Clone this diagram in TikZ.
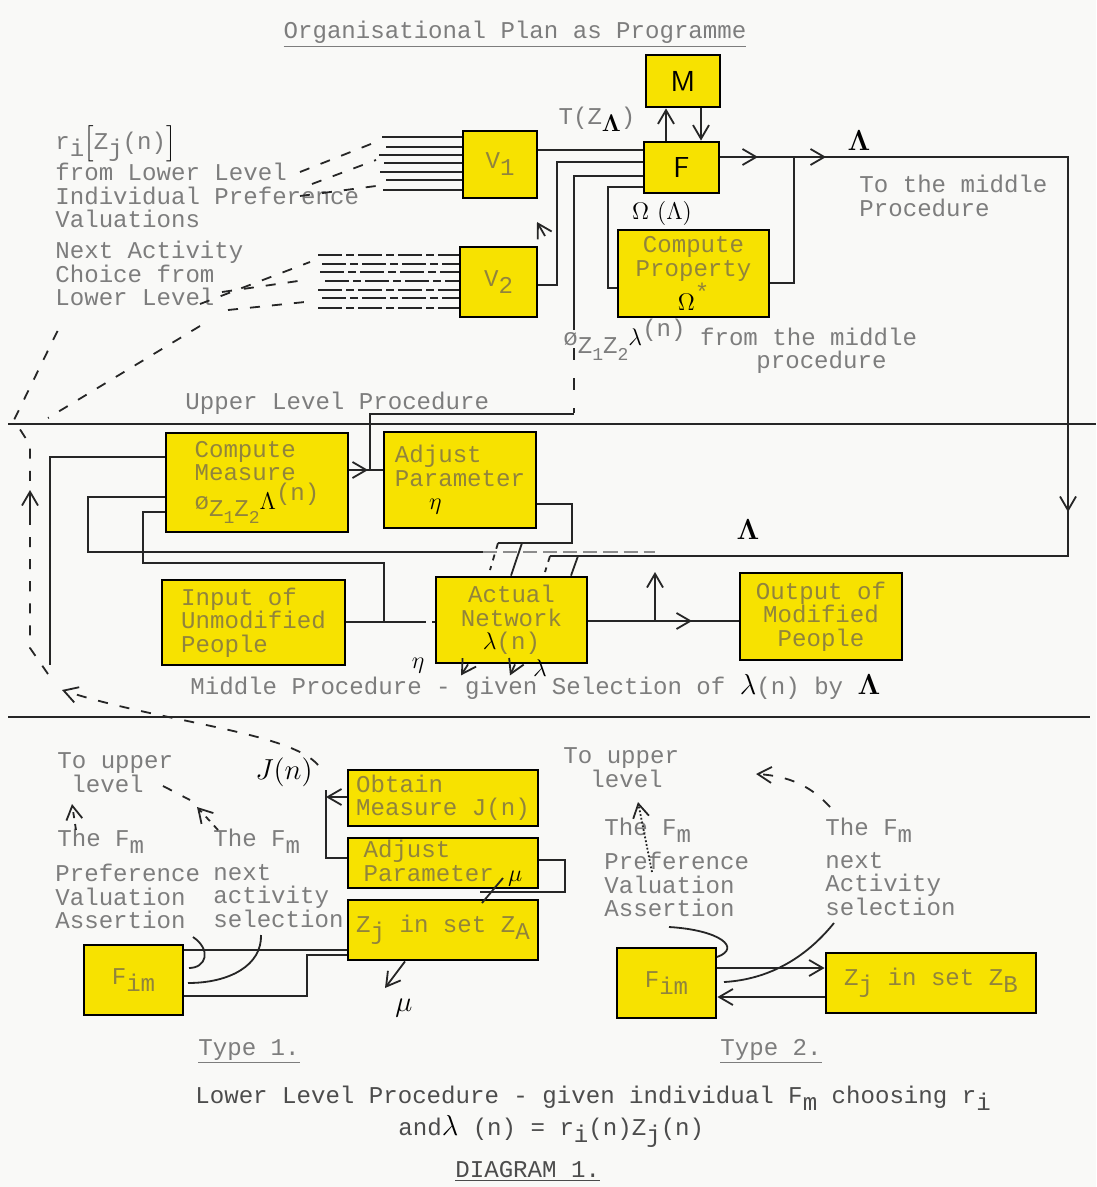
\documentclass[tikz,border=0pt]{standalone}
\usepackage[no-math]{fontspec}
\setmonofont{Liberation Mono}
\usepackage{tikz}
\usetikzlibrary{arrows.meta, positioning}

\definecolor{paper}{RGB}{249,249,247}
\definecolor{boxyellow}{RGB}{247,226,0}
\definecolor{typed}{RGB}{125,125,125}
\definecolor{boxtyped}{RGB}{145,132,60}

\newcommand{\px}{0.0175cm}
\newcommand{\dn}[1]{\raisebox{-0.55ex}{#1}}
\newcommand{\hi}[1]{\raisebox{0.75ex}{#1}}

\begin{document}
\begin{tikzpicture}[x=\px, y=-\px,
  every node/.style={font=\ttfamily\fontsize{12}{11.7}\selectfont, inner sep=0pt, text=typed},
  box/.style 2 args={draw=black, line width=1.4pt, fill=boxyellow, inner sep=0pt,
    text=boxtyped, align=center, minimum width=#1*\px, minimum height=#2*\px},
  txt/.style={align=left, anchor=north west},
  lbl/.style={anchor=base west},
  hand/.style={text=black, font=\Large},
  ln/.style={draw=black!85, line width=0.9pt},
  arr/.style={ln, -{Straight Barb[length=2.4mm, width=2.8mm]}},
  dsh/.style={ln, dash pattern=on 5pt off 6pt},
  faint/.style={draw=black!45, line width=0.6pt, dash pattern=on 7pt off 3pt},
  divider/.style={draw=black!85, line width=1.1pt},
]
\fill[paper] (0,0) rectangle (1096,1187);
\useasboundingbox (0,0) rectangle (1096,1187);

% ---- upper level ----
\node (title) at (515,34) {\underline{Organisational Plan as Programme}};

\node[box={74}{52}, text=black, font=\Large\sffamily] (mbox) at (683,81) {M};
\node[box={75}{51}, text=black, font=\Large\sffamily] (fbox) at (681.5,167.5) {F};
\node[box={74}{67}] (vone) at (500,164.5) {V\dn{1}};
\node[box={77}{70}] (vtwo) at (498.5,282) {V\dn{2}};
\node[box={151}{87}] (cprop) at (693.5,273.5)
  {Compute\\Property\\{\color{black}\large$\Omega$}\hi{*}};

\node[lbl] (riz) at (55,150)
  {r\dn{i}{\color{black}$\Big[$}Z\dn{j}(n){\color{black}$\Big]$}};
\node[txt] (lowtxt) at (55,163) {from Lower Level\\Individual Preference\\Valuations};
\node[txt] (acttxt) at (55,241) {Next Activity\\Choice from\\Lower Level};

\foreach \y/\x in {137/382, 147/386, 155/379, 163/384, 172/380, 180/386, 190/383}
  \draw[ln] (\x,\y) -- (vone.west |- 0,\y);
\draw[dsh] (300,172) -- (376,142);
\draw[dsh] (312,184) -- (376,160);
\draw[dsh] (300,196) -- (376,186);
\foreach \y/\x in {255/318, 264/322, 272/320, 281/325, 290/318, 298/322, 308/318}
  \draw[ln, dash pattern=on 12pt off 2pt on 4pt off 2pt] (\x,\y) -- (vtwo.west |- 0,\y);
\draw[dsh] (200,304) -- (310,262);
\draw[dsh] (222,292) -- (305,280);
\draw[dsh] (228,310) -- (305,302);

\draw[ln] (vone.east |- 0,150) -- (fbox.west |- 0,150);
\draw[ln] (fbox.west |- 0,162) -- (557,162) -- (557,285) -- (vtwo.east |- 0,285);
\draw[ln] (fbox.west |- 0,176) -- (574,176) -- (574,318);
\draw[ln, dash pattern=on 6pt off 9pt] (574,318) -- (574,413);
\draw[ln] (fbox.west |- 0,187) -- (608,187) -- (608,288) -- (cprop.west |- 0,288);
\draw[arr] (545,236) -- (537,222);

\draw[arr] (fbox.north -| 666,0) -- (mbox.south -| 666,0);
\draw[arr] (mbox.south -| 701,0) -- (fbox.north -| 701,0);
\node (tz) at (597,119) {T(Z\dn{{\color{black}$\mathbf\Lambda$}})};

\draw[ln] (fbox.east |- 0,157) -- (1068,157) -- (1068,556) -- (550,556);
\draw[arr] (fbox.east |- 0,157) -- (758,157);
\draw[arr] (794,157) -- (826,157);
\draw[arr] (1068,480) -- (1068,512);
\draw[ln] (cprop.east |- 0,283) -- (794,283) -- (794,157);
\node[hand] (lamF) at (859,141) {$\mathbf\Lambda$};
\node[text=black, font=\large] (omlam) at (662,213) {$\Omega$ ($\Lambda$)};
\node[txt] (tomid) at (859,175) {To the middle\\Procedure};
\node[lbl] (phimid) at (563,346)
  {ø\dn{Z\dn{\small 1}Z\dn{\small 2}}{\color{black}\large$\lambda$}\hi{(n)} from the middle};
\node[lbl] (phimid2) at (756,368) {procedure};

\draw[dsh] (200,326) -- (48,418);
\node[lbl] (uptitle) at (185,409) {Upper Level Procedure};
\draw[ln] (574,414) -- (370,414) -- (370,470);

\draw[divider] (8,424) -- (1096,424);

% ---- middle level ----
\node[box={182}{99}, align=left] (cmeas) at (257,482.5)
  {Compute\\Measure\\ø\dn{Z\dn{\small 1}Z\dn{\small 2}}{\color{black}\large$\Lambda$}\hi{(n)}};
\node[box={152}{96}, align=left] (adjeta) at (460,480)
  {Adjust\\Parameter\\\hspace*{0.6cm}{\color{black}\large$\eta$}};
\node[box={183}{85}, align=left] (inp) at (253.5,622.5)
  {Input of\\Unmodified\\People};
\node[box={151}{86}] (net) at (511.5,620)
  {Actual\\Network\\{\color{black}\large$\lambda$}(n)};
\node[box={162}{87}] (outp) at (821,616.5) {Output of\\Modified\\People};

\draw[ln] (cmeas.east |- 0,470) -- (adjeta.west |- 0,470);
\draw[arr] (cmeas.east |- 0,470) -- (368,470);

\draw[ln] (cmeas.west |- 0,457) -- (50,457) -- (50,665);
\draw[ln] (cmeas.west |- 0,497) -- (88,497) -- (88,552) -- (483,552);
\draw[faint] (483,552) -- (655,552);
\draw[ln] (cmeas.west |- 0,512) -- (143,512) -- (143,563) -- (384,563) -- (384,622);
\draw[ln] (inp.east |- 0,622) -- (420,622);
\draw[ln, dashed] (420,622) -- (net.west |- 0,622);

\draw[ln] (adjeta.east |- 0,504) -- (572,504) -- (572,543) -- (498,543);
\draw[ln] (522,543) -- (net.north -| 511,0);
\draw[ln, dashed] (498,543) -- (490,570);
\draw[ln] (578,556) -- (net.north -| 571,0);
\draw[ln, dashed] (550,556) -- (545,572);
\node[hand] (lamM) at (748,530) {$\mathbf\Lambda$};

\draw[ln] (net.east |- 0,621) -- (outp.west |- 0,621);
\draw[arr] (net.east |- 0,621) -- (692,621);
\draw[arr] (655,621) -- (655,572);

\node[text=black, font=\large] (etamark) at (418,666) {$\eta$};
\draw[arr] (net.south -| 468,0) -- ++(-7,11);
\draw[arr] (net.south -| 515,0) -- ++(-5,11);
\node[text=black, font=\large] (lammark) at (540,668) {$\lambda$};

\node[lbl] (midtitle) at (190,694)
  {Middle Procedure - given Selection of {\color{black}\Large$\lambda$}(n) by {\color{black}\Large$\mathbf\Lambda$}};

\draw[dsh] (48,674) -- (30,648) -- (30,445) -- (14,420) -- (58,330);
\draw[arr] (30,525) -- (30,490);

\draw[divider] (8,717) -- (1090,717);

% ---- lower level, type 1 ----
\node[box={190}{56}, align=left] (obt) at (443,798) {Obtain\\Measure J(n)};
\node[box={190}{50}, align=left] (adjmu) at (443,863)
  {Adjust\\Parameter {\color{black}\large$\mu$}};
\node[box={190}{60}] (zA) at (443,930) {Z\dn{j} in set Z\dn{A}};
\node[box={99}{70}] (fimA) at (133.5,980) {F\dn{im}};

\node[hand] (jn) at (284,772) {$J(n)$};
\draw[dsh, -{Straight Barb[length=2.4mm, width=2.8mm]}]
  (318,765) .. controls (290,732) and (160,722) .. (62,690);

\draw[arr] (obt.west |- 0,797) -- (326,797);
\draw[ln] (326,790) -- (326,858) -- (adjmu.west |- 0,858);
\draw[ln] (adjmu.east |- 0,860) -- (565,860) -- (565,892) -- (480,892);
\draw[ln] (482,903) -- (503,878);
\draw[arr] (zA.south -| 405,0) -- (385,988);
\node[hand] (mulow) at (404,1008) {$\mu$};

\draw[ln] (fimA.east |- 0,950) -- (zA.west |- 0,950);
\draw[ln] (zA.west |- 0,955) -- (307,955) -- (307,996) -- (fimA.east |- 0,996);
\draw[ln] (193,937) .. controls (212,950) and (206,968) .. (189,968);
\draw[ln] (261,935) .. controls (262,965) and (230,983) .. (188,983);

\node[lbl] (toupA) at (57,768) {To upper};
\node[lbl] (levA) at (71,792) {level};
\node[lbl] (thefA) at (57,846) {The F\dn{m}};
\node[txt] (prefA) at (55,864) {Preference\\Valuation\\Assertion};
\node[lbl] (thefA2) at (213,846) {The F\dn{m}};
\node[txt] (nextA) at (213,864) {next\\activity\\selection};
\draw[arr, dashed] (76,830) -- (72,804);
\draw[dsh] (163,786) -- (190,800);
\draw[arr, dashed] (218,830) -- (197,807);

% ---- lower level, type 2 ----
\node[box={99}{70}] (fimB) at (666.5,983) {F\dn{im}};
\node[box={210}{60}] (zB) at (931,983) {Z\dn{j} in set Z\dn{B}};

\draw[arr] (fimB.east |- 0,968) -- (zB.west |- 0,968);
\draw[arr] (zB.west |- 0,997) -- (fimB.east |- 0,997);
\draw[ln] (669,927) .. controls (720,930) and (742,948) .. (717,957);
\draw[ln] (834,923) .. controls (800,965) and (760,980) .. (724,982);

\node[lbl] (toupB) at (563,763) {To upper};
\node[lbl] (levB) at (590,787) {level};
\node[lbl] (thefB) at (604,835) {The F\dn{m}};
\node[txt] (prefB) at (604,852) {Preference\\Valuation\\Assertion};
\node[lbl] (thefB2) at (825,835) {The F\dn{m}};
\node[txt] (nextB) at (825,852) {next\\Activity\\selection};
\draw[arr, densely dotted] (652,872) -- (638,802);
\draw[dsh, -{Straight Barb[length=2.4mm, width=2.8mm]}]
  (830,807) .. controls (812,787) and (790,776) .. (756,774);

% ---- captions ----
\node[lbl] (typeA) at (198,1055) {\underline{Type 1.}};
\node[lbl] (typeB) at (720,1055) {\underline{Type 2.}};
\node[lbl, text=black!70] (lowtitle) at (195,1103)
  {Lower Level Procedure - given individual F\dn{m} choosing r\dn{i}};
\node[lbl, text=black!70] (lowform) at (398,1135)
  {and{\color{black}\Large$\lambda$} (n) = r\dn{i}(n)Z\dn{j}(n)};
\node[lbl, text=black!70] (diag) at (455,1177) {\underline{DIAGRAM 1.}};

\end{tikzpicture}
\end{document}
